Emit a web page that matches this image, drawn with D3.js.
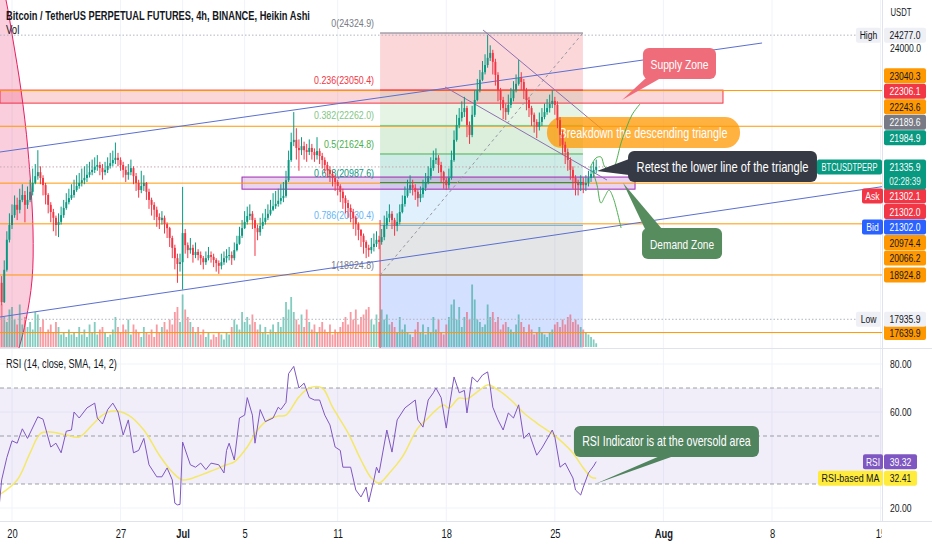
<!DOCTYPE html>
<html>
<head>
<meta charset="utf-8">
<script src="https://cdn.jsdelivr.net/npm/d3@7"></script>
<style>
  body { margin: 0; background: #fff; }
  svg { display: block; font-family: "Liberation Sans", Arial, sans-serif; }
</style>
</head>
<body>
<svg id="chart" width="932" height="550"></svg>
<script>
// ---- DATA ----
const startTime = "2022-06-19T08:00:00Z";   // first 4h bar
const barHours = 4;
const firstOpen = 18750;

const closes = [
  18320, 19040, 19710, 20040,
  20260, 20490, 20380, 20600, 20710, 20490,
  20600, 20780, 20980, 21130, 21220, 21090,
  20930, 20710, 20490, 20330, 20200, 20040,
  20110, 20260, 20420, 20550, 20640, 20710,
  20820, 20910, 20980, 21040, 21090, 21160,
  21220, 21270, 21340, 21380, 21310, 21220,
  21270, 21360, 21420, 21490, 21540, 21490,
  21380, 21270, 21160, 21220, 21310, 21130,
  20980, 20820, 20910, 20980, 20780, 20600,
  20490, 20380, 20220, 20150, 20200, 20060,
  19970, 19750, 19530, 19300, 19170, 19210,
  19860, 19590, 19480, 19530, 19370, 19440,
  19370, 19300, 19210, 19300, 19370, 19330,
  19260, 19190, 19130, 19210, 19300, 19350,
  19370, 19300, 19480, 19620, 19800, 19970,
  20110, 20240, 20290, 20150, 19970, 19880,
  20020, 20110, 20200, 20290, 20380, 20460,
  20510, 20580, 20640, 20690, 21040, 21490,
  21890, 21940, 21760, 21710, 21800, 21710,
  21670, 21760, 21670, 21600, 21690, 21580,
  21490, 21380, 21270, 21180, 21090, 21000,
  20910, 20780, 20640, 20530, 20420, 20330,
  20200, 20060, 19930, 19800, 19660, 19530,
  19480, 19550, 19620, 19710, 19660, 19770,
  20040, 20200, 20290, 20150, 20020, 20110,
  20330, 20510, 20690, 20820, 20930, 20870,
  20780, 20640, 20730, 20870, 21000, 21130,
  21310, 21490, 21540, 21380, 21220, 21040,
  20930, 21090, 21490, 21940, 22270, 22430,
  22560, 22650, 22270, 22050, 22500, 22830,
  23050, 23280, 23450, 23610, 23770, 23880,
  23680, 23390, 23050, 22830, 22650, 22560,
  22720, 22870, 23050, 23190, 23320, 23230,
  23050, 22830, 22650, 22500, 22340, 22230,
  22340, 22450, 22560, 22650, 22740, 22810,
  22720, 22380, 22050, 21830, 21670, 21490,
  21270, 21090, 20980, 20930, 21000, 20930,
  20980, 21090, 21180, 21270, 21335.9
];
const highs = [
  18900, 19250, 19900, 20300,
  20500, 20700, 20650, 20850, 20950, 20800,
  20900, 21050, 21300, 21400, 21710, 21350,
  21150, 20980, 20750, 20550, 20400, 20250,
  20300, 20450, 20600, 20750, 20850, 20950,
  21050, 21150, 21200, 21300, 21350, 21400,
  21450, 21500, 21550, 21600, 21450, 21400,
  21450, 21550, 21650, 21700, 21880, 21650,
  21550, 21450, 21350, 21400, 21500, 21350,
  21200, 21050, 21250, 21150, 21000, 20850,
  20650, 20550, 20450, 20300, 20350, 20250,
  20100, 20000, 19800, 19600, 19400, 19400,
  20890, 19950, 19650, 19750, 19600, 19650,
  19500, 19450, 19350, 19450, 19550, 19450,
  19400, 19300, 19250, 19400, 19450, 19500,
  19550, 19450, 19650, 19800, 20000, 20150,
  20350, 20450, 20500, 20350, 20200, 20050,
  20200, 20300, 20400, 20500, 20600, 20750,
  20800, 20850, 20950, 21000, 21250, 21700,
  22100, 22560, 22200, 21950, 22000, 21900,
  21850, 21950, 21850, 21750, 22000, 21750,
  21650, 21550, 21450, 21350, 21250, 21150,
  21050, 20950, 20850, 20700, 20600, 20500,
  20400, 20250, 20100, 19950, 19850, 19700,
  19600, 19750, 19850, 19900, 19800, 19950,
  20250, 20350, 20500, 20350, 20200, 20300,
  20500, 20700, 20900, 21050, 21150, 21050,
  20950, 20850, 20900, 21050, 21200, 21350,
  21550, 21700, 21750, 21600, 21450, 21250,
  21100, 21300, 21700, 22150, 22500, 22650,
  22800, 22900, 22700, 22350, 22700, 23050,
  23300, 23500, 23700, 23850, 24277, 24050,
  23950, 23750, 23450, 23100, 22900, 22750,
  22950, 23100, 23250, 23400, 23720, 23450,
  23300, 23100, 22900, 22700, 22550, 22400,
  22550, 22650, 22750, 22850, 22950, 23050,
  22900, 22800, 22450, 22150, 21900, 21750,
  21550, 21350, 21150, 21050, 21150, 21100,
  21150, 21250, 21350, 21450, 21500
];
const lows = [
  18250, 18300, 19000, 19650,
  19950, 20200, 20150, 20300, 20550, 20100,
  20400, 20550, 20700, 20950, 21050, 20950,
  20700, 20500, 20300, 20100, 19900, 19800,
  19770, 20050, 20200, 20380, 20500, 20600,
  20650, 20780, 20850, 20900, 20950, 21000,
  21100, 21150, 21200, 21250, 21150, 21050,
  21150, 21200, 21300, 21350, 21400, 21350,
  21250, 21100, 21000, 21050, 21150, 20950,
  20800, 20650, 20750, 20800, 20600, 20400,
  20250, 20150, 20000, 19950, 20050, 19850,
  19750, 19550, 19300, 19050, 18750, 19000,
  18600, 19400, 19300, 19400, 19200, 19300,
  19250, 19150, 19050, 19150, 19250, 19200,
  19100, 19000, 18950, 19050, 19150, 19200,
  19250, 19150, 19250, 19450, 19600, 19750,
  19950, 20050, 20150, 19950, 19350, 19700,
  19800, 19950, 20050, 20150, 20250, 20350,
  20400, 20450, 20500, 20550, 20650, 21000,
  21450, 21800, 21500, 21250, 21600, 21500,
  21450, 21600, 21500, 21450, 21500, 21400,
  21300, 21200, 21100, 21000, 20900, 20800,
  20700, 20550, 20400, 20300, 20200, 20100,
  19950, 19800, 19700, 19550, 19400, 19300,
  19330, 19400, 19450, 19550, 19500, 19600,
  19700, 19950, 20100, 19950, 19800, 19900,
  20050, 20300, 20450, 20650, 20750, 20700,
  20600, 20450, 20550, 20650, 20800, 20950,
  21050, 21250, 21400, 21200, 21000, 20850,
  20820, 20850, 21050, 21450, 21900, 22200,
  22350, 22450, 22000, 21850, 22000, 22450,
  22800, 23000, 23250, 23400, 23550, 23700,
  23400, 23150, 22800, 22600, 22400, 22380,
  22500, 22650, 22800, 23000, 23150, 23050,
  22850, 22600, 22450, 22250, 22100, 21980,
  22150, 22250, 22400, 22500, 22550, 22650,
  22500, 22200, 21800, 21600, 21400, 21250,
  21050, 20850, 20700, 20700, 20800, 20750,
  20800, 20900, 21000, 21100, 21200
];
// volume, thousand contracts (approx.)
const volumes = [
  170, 120, 100, 150,
  160, 110, 90, 170, 90, 120,
  80, 100, 70, 140, 130, 80,
  110, 60, 70, 90, 60, 100,
  80, 50, 60, 40, 70, 50,
  60, 40, 80, 50, 70, 40,
  90, 60, 100, 50, 70, 80,
  60, 40, 50, 70, 120, 80,
  60, 90, 70, 110, 50, 90,
  70, 60, 40, 80, 60, 50,
  70, 40, 90, 60, 80, 100,
  70, 110, 90, 140, 160, 100,
  210, 150, 120, 100, 80, 60,
  80, 50, 70, 40, 60, 30,
  50, 40, 60, 50, 30, 60,
  50, 80, 110, 90, 70, 140,
  100, 120, 90, 130, 100, 70,
  90, 60, 80, 50, 70, 90,
  60, 100, 80, 120, 180, 150,
  200, 140, 110, 90, 130, 80,
  150, 100, 70, 90, 60, 80,
  100, 70, 60, 90, 50, 70,
  60, 80, 100, 120, 90, 140,
  110, 150, 90, 120, 130, 150,
  160, 110, 90, 130, 100, 150,
  110, 130, 90, 100, 80, 60,
  120, 70, 90, 60, 50, 40,
  70, 100, 60, 90, 50, 80,
  60, 120, 70, 110, 60, 50,
  90, 120, 170, 190, 110, 160,
  80, 120, 140, 110, 250, 190,
  110, 100, 80, 90, 170, 120,
  140, 100, 120, 70, 90, 100,
  80, 70, 60, 90, 130, 100,
  80, 60, 90, 70, 50, 60,
  80, 60, 50, 40, 60, 70,
  90, 100, 80, 110, 90, 120,
  130, 100, 110, 90, 80, 70,
  60, 50, 40, 30, 15
];
// RSI(14) and its SMA(14): [bar index, value]
const rsiPoints = [[-1,20.4],[0,31.7],[2,41],[4,48],[6,47],[8,53],[10,49],[14,58],[16,57],[19,45.4],[21,47],[23,43],[25,52],[27,52.5],[28,60],[30,57.5],[33,61.7],[36,63.7],[37,57.5],[39,55],[41,61],[43,63.7],[45,60],[47,50.4],[49,56.7],[51,43],[53,44],[55,49],[57,38],[60,33],[62,33],[64,36.7],[66,31.7],[67,22],[68,21.3],[69,21.5],[70,47.5],[73,38],[75,37],[77,38.7],[79,36],[81,38.7],[84,38],[86,34.6],[87,44],[88,47],[90,40],[92,57.5],[94,58.7],[95,66],[97,58.7],[98,47],[100,61],[102,56],[105,57.5],[107,62],[108,61],[110,64],[111,76],[113,79],[115,70],[117,72],[119,66],[121,65],[123,65],[125,58.7],[127,54.6],[129,45.4],[131,44],[132,37],[135,37],[137,27.5],[139,24.6],[141,28.7],[142,22.5],[144,31.7],[145,37],[146,34.6],[149,52.5],[151,43.3],[153,56.7],[156,61.7],[160,65],[161,56.7],[163,53.7],[165,65],[167,68],[168,70],[170,66],[172,53.3],[173,61],[175,74.6],[177,68],[179,69],[180,59.6],[182,74.6],[184,72.5],[186,75.4],[188,76.7],[189,70.4],[190,62],[192,56.7],[194,52.5],[196,59.6],[198,57.5],[200,63],[202,49],[204,51.3],[207,42],[209,45],[213,52.5],[214,49.6],[216,37],[218,38.7],[221,32.5],[222,27.5],[224,25.4],[225,28.7],[227,34.6],[229,37.5],[230,39.32]];
const rsiMaPoints = [[-1,25.4],[6,31.7],[11,43],[15,51],[19,51.7],[25,50.4],[30,49.6],[35,54.6],[39,58.7],[43,60.4],[49,58.7],[55,52.5],[61,42],[66,35],[70,31.7],[77,33.7],[82,35.8],[87,38],[90,39.2],[95,45.4],[99,52.5],[103,56.7],[107,58.3],[110,58.7],[115,66.3],[119,70],[124,70],[128,62],[134,51.3],[139,40],[143,32.5],[146,30.4],[150,34.6],[155,41.3],[161,53.3],[165,57.5],[168,60.8],[171,62.9],[173,61.7],[177,65.8],[180,65.5],[185,69.2],[188,71.3],[192,69.2],[197,65],[202,59.6],[207,55.4],[212,51.7],[216,48.3],[221,42.9],[225,36.7],[228,32.9],[230,32.41]];

const timeTicks = ["2022-06-20","2022-06-27","2022-07-01","2022-07-05","2022-07-11","2022-07-18","2022-07-25","2022-08-01","2022-08-08","2022-08-15"];
const timeTickLabels = ["20","27","Jul","5","11","18","25","Aug","8","15"];
const priceTicks = [24000];
const rsiTicks = [80, 60, 20];
const rsiLevels = [70, 50, 30];

const fibRatios = [0, 0.236, 0.382, 0.5, 0.618, 0.786, 1];
const fibPrices = [24324.9, 23050.4, 22262.0, 21624.8, 20987.6, 20030.4, 18924.8];
const hLevels = [23040.3, 22243.6, 20974.4, 20066.2, 18924.8, 17639.9];
const highPrice = 24277.0, lowPrice = 17935.9;

const tagPrices = [23040.3, 22306.1, 22243.6, 22189.6, 21984.9, 21302.1, 21302.0, 21302.0, 20974.4, 20066.2, 18924.8, 17639.9];
const tagKinds  = ["level", "sell", "level", "neutral", "buy", "sell", "sell", "bid", "level", "level", "level", "level"];
const tagNames  = ["", "", "", "", "", "Ask", "", "Bid", "", "", "", ""];
const countdown = "02:28:39";
const symbol = "BTCUSDTPERP";
const rsiLast = 39.32, rsiMaLast = 32.41;

const calloutTexts = ["Supply Zone", "Breakdown the descending triangle", "Retest the lower line of the triangle", "Demand Zone", "RSI Indicator is at the oversold area"];

// ---- SETUP ----
const up = "#089981", down = "#f23645", textCol = "#131722";
const paneR = 882;
const svg = d3.select("#chart");
const DAY = 864e5;
const t0 = Date.parse("2022-06-20T00:00:00Z");
const x = d3.scaleUtc().domain([new Date(t0), new Date(t0 + 56 * DAY)]).range([12, 12 + 56 * 15.51]);
const xd = d => x(new Date(t0 + d * DAY));
const y = d3.scaleLinear().domain([17317.5, 25061.3]).range([347, 0]);
const yVol = d3.scaleLinear().domain([0, 300]).range([347, 272]);
const yRsi = d3.scaleLinear().domain([20, 80]).range([508, 364]);
const barTime = i => new Date(Date.parse(startTime) + i * barHours * 3600e3);
const xb = i => x(barTime(i));

const bars = closes.map((c, i) => ({ i, t: barTime(i), o: i ? closes[i - 1] : firstOpen, c, h: highs[i], l: lows[i], v: volumes[i] }));

// the screenshot's text is horizontally compressed: f < 2 is a factor, otherwise a target width in px
function squeeze(sel, f) {
  sel.each(function () {
    const el = d3.select(this);
    const tx = +el.attr("x") || 0, ty = +el.attr("y") || 0;
    const w = this.getComputedTextLength();
    const s = w > 0 ? (f > 2 ? f / w : f) : 1;
    el.attr("x", 0).attr("y", 0).attr("transform", `translate(${tx},${ty}) scale(${s.toFixed(3)},1)`);
  });
  return sel;
}
function label(g, tx, ty, str, size, fill, anchor, f, weight) {
  const t = g.append("text").attr("x", tx).attr("y", ty).text(str)
    .attr("font-size", size).attr("fill", fill).attr("text-anchor", anchor || "start")
    .attr("font-weight", weight || "normal");
  return squeeze(t, f || 0.78);
}

const defs = svg.append("defs");
defs.append("clipPath").attr("id", "clipMain").append("rect").attr("x", 0).attr("y", 0).attr("width", paneR).attr("height", 348);
defs.append("clipPath").attr("id", "clipRsi").append("rect").attr("x", 0).attr("y", 349).attr("width", paneR).attr("height", 172);
defs.append("clipPath").attr("id", "clipTime").append("rect").attr("x", 0).attr("y", 521).attr("width", paneR).attr("height", 29);

// grid
const grid = svg.append("g").attr("stroke", "#f0f3fa");
timeTicks.forEach(t => {
  const gx = x(new Date(t + "T00:00:00Z"));
  if (gx < paneR) grid.append("line").attr("x1", gx).attr("x2", gx).attr("y1", 0).attr("y2", 521);
});
rsiTicks.forEach(v => grid.append("line").attr("x1", 0).attr("x2", paneR).attr("y1", yRsi(v)).attr("y2", yRsi(v)));

// ---- MAIN PANE ----
const main = svg.append("g").attr("clip-path", "url(#clipMain)");

// fib retracement boxes
const fibColors = ["#787b86", "#f23645", "#81c784", "#4caf50", "#089981", "#64b5f6", "#787b86"];
const fx1 = xd(23.73), fx2 = xd(36.81);
for (let i = 1; i < fibPrices.length; i++) {
  main.append("rect").attr("x", fx1).attr("width", fx2 - fx1)
    .attr("y", y(fibPrices[i - 1])).attr("height", y(fibPrices[i]) - y(fibPrices[i - 1]))
    .attr("fill", fibColors[i]).attr("fill-opacity", 0.2);
}
main.append("rect").attr("x", fx1).attr("width", fx2 - fx1)
  .attr("y", y(fibPrices[6])).attr("height", 348 - y(fibPrices[6]))
  .attr("fill", "#2962ff").attr("fill-opacity", 0.2);

// supply and demand rectangles
main.append("rect").attr("x", xd(-0.774)).attr("width", xd(45.84) - xd(-0.774))
  .attr("y", y(23050)).attr("height", y(22760) - y(23050))
  .attr("fill", "#f23645").attr("fill-opacity", 0.2).attr("stroke", "#f23645");
main.append("rect").attr("x", xd(14.83)).attr("width", xd(40.17) - xd(14.83))
  .attr("y", y(21110)).attr("height", y(20840) - y(21110))
  .attr("fill", "#9c27b0").attr("fill-opacity", 0.2).attr("stroke", "#9c27b0");

// ellipse on the left edge
const ellPts = [[-0.9, 25800], [-0.387, 25061], [0.064, 24169], [0.58, 23053], [1.03, 21714], [1.354, 19929], [1.29, 18813], [0.9, 17920], [0.45, 17295], [-0.3, 16600]];
const ellD = d3.line().x(d => xd(d[0])).y(d => y(d[1])).curve(d3.curveCatmullRom)(ellPts)
  + `L${xd(-4)},${y(16600)}L${xd(-4)},${y(25800)}Z`;
main.append("path").attr("d", ellD).attr("fill", "#e91e63").attr("fill-opacity", 0.22)
  .attr("stroke", "#e91e63").attr("stroke-width", 1);

// volume
main.append("g").selectAll("rect").data(bars).join("rect")
  .attr("x", d => xb(d.i) - 0.9).attr("width", 1.8)
  .attr("y", d => yVol(d.v)).attr("height", d => 347 - yVol(d.v))
  .attr("fill", d => d.c >= d.o ? up : down).attr("fill-opacity", 0.5);

// horizontal levels
hLevels.forEach(p => main.append("line").attr("x1", 0).attr("x2", paneR).attr("y1", y(p)).attr("y2", y(p))
  .attr("stroke", "#ff9800").attr("stroke-width", 1));
[[highPrice, "#b2b5be"], [lowPrice, "#b2b5be"], [closes[closes.length - 1], "#c9a7ae"]].forEach(([p, c]) =>
  main.append("line").attr("x1", 0).attr("x2", paneR).attr("y1", y(p)).attr("y2", y(p))
    .attr("stroke", c).attr("stroke-dasharray", "1.5,2"));

// fib lines + labels
fibPrices.forEach((p, i) => {
  main.append("line").attr("x1", fx1).attr("x2", fx2).attr("y1", y(p)).attr("y2", y(p)).attr("stroke", fibColors[i]);
  label(main, fx1 - 6, y(p) - 6, `${fibRatios[i]}(${d3.format(".1f")(p)})`, 11.5, fibColors[i], "end", 0.77);
});
main.append("line").attr("x1", fx1).attr("x2", fx1).attr("y1", y(20152)).attr("y2", 348).attr("stroke", "#f23645");
main.append("line").attr("x1", fx1).attr("y1", y(fibPrices[6])).attr("x2", fx2).attr("y2", y(fibPrices[0]))
  .attr("stroke", "#9598a1").attr("stroke-dasharray", "3,3");

// channel and triangle lines
const seg = (a, b, col) => main.append("line").attr("x1", xd(a[0])).attr("y1", y(a[1])).attr("x2", xd(b[0])).attr("y2", y(b[1])).attr("stroke", col).attr("stroke-width", 1);
seg([-0.774, 21669], [48.36, 24102], "#5b6fd1");
seg([-0.774, 17987], [56.09, 20895], "#5b6fd1");
seg([30.37, 24392], [38.1, 22160], "#8e6fae");
seg([27.92, 23120], [38.36, 21044], "#8e6fae");

// breakdown pill (sits under the candles)
{
  const bx1 = xd(34.49), bx2 = xd(46.94), by1 = y(22450), by2 = y(21758);
  main.append("rect").attr("x", bx1).attr("y", by1).attr("width", bx2 - bx1).attr("height", by2 - by1)
    .attr("rx", 15).attr("fill", "#ff9800").attr("fill-opacity", 0.75);
  label(main, (bx1 + bx2) / 2, (by1 + by2) / 2 + 5, calloutTexts[1], 14, "#fff", "middle", 168);
}

// candles
const cg = main.append("g");
cg.selectAll("line").data(bars).join("line")
  .attr("x1", d => xb(d.i)).attr("x2", d => xb(d.i))
  .attr("y1", d => y(d.h)).attr("y2", d => y(d.l))
  .attr("stroke", d => d.c >= d.o ? up : down).attr("stroke-width", 1);
cg.selectAll("rect").data(bars).join("rect")
  .attr("x", d => xb(d.i) - 0.95).attr("width", 1.9)
  .attr("y", d => y(Math.max(d.o, d.c)))
  .attr("height", d => Math.max(0.8, Math.abs(y(d.o) - y(d.c))))
  .attr("fill", d => d.c >= d.o ? up : down);

// projected paths
const pathUp = [[37.27, 21312], [37.65, 21535], [37.97, 21558], [38.23, 21335], [38.68, 21268], [39.33, 21937], [39.97, 22495], [40.49, 22740]];
const pathDown = [[37.46, 21223], [37.72, 20930], [37.97, 20530], [38.23, 20680], [38.49, 20820], [38.75, 20660], [39.27, 19973]];
[pathUp, pathDown].forEach(pts => main.append("path")
  .attr("d", d3.line().x(d => xd(d[0])).y(d => y(d[1])).curve(d3.curveCatmullRom)(pts))
  .attr("fill", "none").attr("stroke", "#4caf50").attr("stroke-width", 1));

// callouts
function callout(g, ys, d1, d2, v1, v2, tail, fill, text, size, w) {
  const bx1 = xd(d1), bx2 = xd(d2), by1 = ys(v1), by2 = ys(v2);
  const tip = [xd(tail.tip[0]), ys(tail.tip[1])];
  let base;
  if (tail.side === "bottom") base = [[bx1 + tail.a, by2 - 1], [bx1 + tail.b, by2 - 1]];
  else if (tail.side === "top") base = [[bx1 + tail.a, by1 + 1], [bx1 + tail.b, by1 + 1]];
  else base = [[bx1 + 1, by1 + tail.a], [bx1 + 1, by1 + tail.b]];
  g.append("path").attr("d", `M${base[0]}L${tip}L${base[1]}Z`).attr("fill", fill);
  g.append("rect").attr("x", bx1).attr("y", by1).attr("width", bx2 - bx1).attr("height", by2 - by1)
    .attr("rx", 6).attr("fill", fill);
  label(g, (bx1 + bx2) / 2, (by1 + by2) / 2 + 5, text, size, "#fff", "middle", w);
}
callout(main, y, 40.68, 45.39, 23990, 23298, { side: "bottom", a: 3, b: 18, tip: [39.33, 22830] }, "#ef6d7a", calloutTexts[0], 13.5, 58);
callout(main, y, 39.72, 51.9, 21691, 21000, { side: "left", a: 8, b: 24, tip: [37.72, 21245] }, "#363a45", calloutTexts[2], 14, 172);
callout(main, y, 40.62, 45.78, 19973, 19281, { side: "top", a: 3, b: 20, tip: [39.4, 20977] }, "#568c5e", calloutTexts[3], 13.5, 64);

// ---- RSI PANE ----
const rsiG = svg.append("g").attr("clip-path", "url(#clipRsi)");
rsiG.append("rect").attr("x", 0).attr("width", paneR).attr("y", yRsi(70)).attr("height", yRsi(30) - yRsi(70))
  .attr("fill", "#7e57c2").attr("fill-opacity", 0.1);
rsiLevels.forEach(v => rsiG.append("line").attr("x1", 0).attr("x2", paneR).attr("y1", yRsi(v)).attr("y2", yRsi(v))
  .attr("stroke", "#868993").attr("stroke-dasharray", "4,3").attr("stroke-opacity", 0.8));
rsiG.append("path").attr("d", d3.line().x(d => xb(d[0])).y(d => yRsi(d[1])).curve(d3.curveCatmullRom)(rsiMaPoints))
  .attr("fill", "none").attr("stroke", "#f3e64f").attr("stroke-width", 1.5).attr("stroke-opacity", 0.85);
rsiG.append("path").attr("d", d3.line().x(d => xb(d[0])).y(d => yRsi(d[1]))(rsiPoints))
  .attr("fill", "none").attr("stroke", "#7e57c2").attr("stroke-width", 1);
callout(rsiG, yRsi, 36.23, 48.16, 54.17, 41.25, { side: "bottom", a: 86, b: 100, tip: [37.59, 30] }, "#50845f", calloutTexts[4], 14, 169);

// ---- SEPARATORS ----
const sep = svg.append("g").attr("stroke", "#e0e3eb");
sep.append("line").attr("x1", paneR + 0.5).attr("x2", paneR + 0.5).attr("y1", 0).attr("y2", 521);
sep.append("line").attr("x1", 0).attr("x2", 932).attr("y1", 348.5).attr("y2", 348.5);
sep.append("line").attr("x1", 0).attr("x2", 932).attr("y1", 521.5).attr("y2", 521.5);

// ---- AXES ----
const tAxis = svg.append("g").attr("clip-path", "url(#clipTime)")
  .append("g").attr("transform", "translate(0,527)")
  .call(d3.axisBottom(x).tickValues(timeTicks.map(t => new Date(t + "T00:00:00Z")))
    .tickFormat((d, i) => timeTickLabels[i]).tickSize(0).tickPadding(2));
tAxis.select(".domain").remove();
tAxis.selectAll("text").attr("font-size", 12).attr("fill", textCol).attr("font-family", "Liberation Sans, Arial, sans-serif")
  .attr("font-weight", (d, i) => /[A-Za-z]/.test(timeTickLabels[i]) ? "bold" : "normal");
squeeze(tAxis.selectAll("text"), 0.78);

const pAxis = svg.append("g").attr("transform", "translate(884,0)")
  .call(d3.axisRight(y).tickValues(priceTicks).tickFormat(d3.format(".1f")).tickSize(0).tickPadding(6));
pAxis.select(".domain").remove();
pAxis.selectAll("text").attr("font-size", 11).attr("fill", textCol).attr("font-family", "Liberation Sans, Arial, sans-serif");
squeeze(pAxis.selectAll("text"), 0.78);

const rAxis = svg.append("g").attr("transform", "translate(884,0)")
  .call(d3.axisRight(yRsi).tickValues(rsiTicks).tickFormat(d3.format(".2f")).tickSize(0).tickPadding(6));
rAxis.select(".domain").remove();
rAxis.selectAll("text").attr("font-size", 11).attr("fill", textCol).attr("font-family", "Liberation Sans, Arial, sans-serif");
squeeze(rAxis.selectAll("text"), 0.78);

// ---- PRICE TAGS ----
const tagStyle = {
  level: ["#ff9800", textCol], sell: ["#f23645", "#fff"], neutral: ["#787b86", "#fff"],
  buy: ["#089981", "#fff"], bid: ["#2962ff", "#fff"]
};
const tg = svg.append("g");
function tag(cy, text, bg, fg, name) {
  tg.append("rect").attr("x", 884).attr("y", cy - 7.5).attr("width", 42).attr("height", 15).attr("rx", 2).attr("fill", bg);
  label(tg, 905, cy + 4, text, 11, fg, "middle", 0.78);
  if (name) {
    tg.append("rect").attr("x", 862).attr("y", cy - 7.5).attr("width", 21).attr("height", 15).attr("rx", 2).attr("fill", bg);
    label(tg, 872.5, cy + 4, name, 11, fg, "middle", 0.78);
  }
}
const lastPrice = closes[closes.length - 1];
const tagList = tagPrices.map((p, i) => ({ p, kind: tagKinds[i], name: tagNames[i], i }));
let lim = 151.5;
tagList.filter(d => d.p > lastPrice).sort((a, b) => a.p - b.p).forEach(d => {
  const cy = Math.min(y(d.p), lim); lim = cy - 15.5;
  tag(cy, d3.format(".1f")(d.p), tagStyle[d.kind][0], tagStyle[d.kind][1], d.name);
});
lim = 196;
tagList.filter(d => d.p < lastPrice).sort((a, b) => (b.p - a.p) || (a.i - b.i)).forEach(d => {
  const cy = Math.max(y(d.p), lim); lim = cy + 15.5;
  tag(cy, d3.format(".1f")(d.p), tagStyle[d.kind][0], tagStyle[d.kind][1], d.name);
});
// last price + countdown
{
  const cy = y(lastPrice);
  tg.append("rect").attr("x", 884).attr("y", cy - 7.5).attr("width", 42).attr("height", 30).attr("rx", 2).attr("fill", up);
  label(tg, 905, cy + 4, d3.format(".1f")(lastPrice), 11, "#fff", "middle", 0.78);
  label(tg, 905, cy + 18.5, countdown, 11, "#e8f5f2", "middle", 0.74);
  tg.append("rect").attr("x", 817).attr("y", cy - 7.5).attr("width", 65).attr("height", 15).attr("rx", 2).attr("fill", up);
  label(tg, 849.5, cy + 4, symbol, 11, "#fff", "middle", 56);
}
// high / low
[[highPrice, "High"], [lowPrice, "Low"]].forEach(([p, n]) => {
  const cy = y(p);
  tg.append("rect").attr("x", 856).attr("y", cy - 7.5).attr("width", 25).attr("height", 15).attr("rx", 2).attr("fill", "#eef0f5");
  label(tg, 868.5, cy + 4, n, 11, textCol, "middle", 0.78);
  tg.append("rect").attr("x", 884).attr("y", cy - 7.5).attr("width", 42).attr("height", 15).attr("rx", 2).attr("fill", "#eef0f5");
  label(tg, 905, cy + 4, d3.format(".1f")(p), 11, textCol, "middle", 0.78);
});
// rsi tags
[[rsiLast, "RSI", "#7e57c2", "#fff", 863, 20, 14], [rsiMaLast, "RSI-based MA", "#ffeb3b", textCol, 818, 65, 58]].forEach(([v, n, bg, fg, nx, nw, tw]) => {
  const cy = yRsi(v);
  tg.append("rect").attr("x", nx).attr("y", cy - 7.5).attr("width", nw).attr("height", 15).attr("rx", 2).attr("fill", bg);
  label(tg, nx + nw / 2, cy + 4, n, 11, fg, "middle", tw);
  tg.append("rect").attr("x", 884).attr("y", cy - 7.5).attr("width", 33).attr("height", 15).attr("rx", 2).attr("fill", bg);
  label(tg, 900.5, cy + 4, d3.format(".2f")(v), 11, fg, "middle", 0.78);
});

// ---- TITLES ----
label(svg, 6, 19.5, "Bitcoin / TetherUS PERPETUAL FUTURES, 4h, BINANCE, Heikin Ashi", 13, textCol, "start", 304, 600);
label(svg, 6, 34, "Vol", 12, textCol, "start", 0.8);
label(svg, 6, 368, "RSI (14, close, SMA, 14, 2)", 12, textCol, "start", 111);
label(svg, 901, 16, "USDT", 11, textCol, "middle", 21);
</script>
</body>
</html>
